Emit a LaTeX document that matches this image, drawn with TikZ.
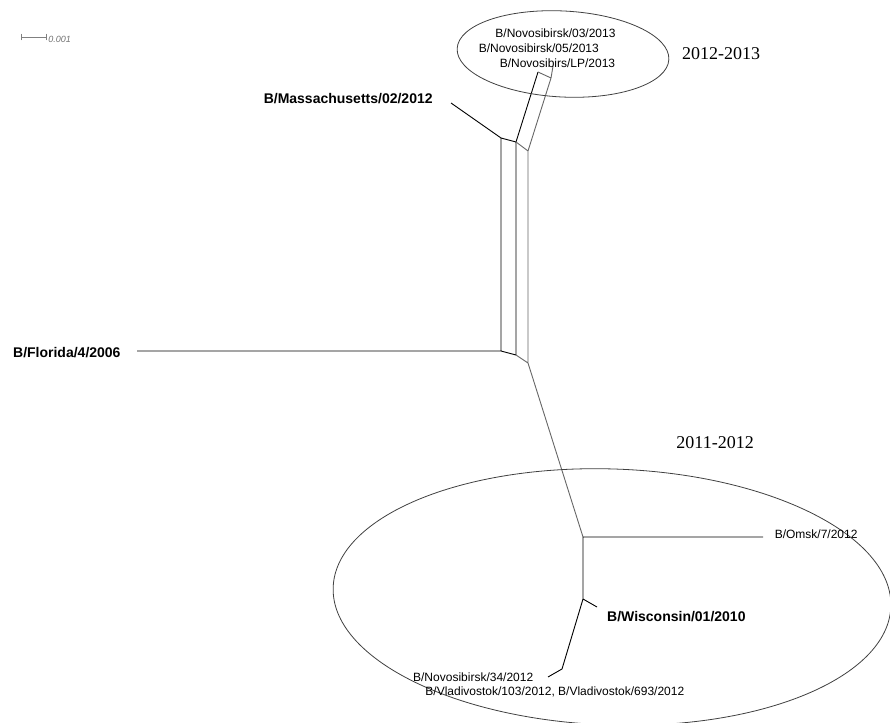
\documentclass[tikz,border=0pt]{standalone}
\usepackage{fontspec}
\setmainfont{Liberation Sans}
\newfontfamily\yearfont{Liberation Serif}
\usetikzlibrary{positioning}
\begin{document}
\begin{tikzpicture}[x=1pt, y=-1pt, line width=0.9pt, font=\fontsize{12}{14}\selectfont,
	strain/.style={anchor=base west, inner sep=0pt},
	refstrain/.style={strain, font=\fontsize{14}{16}\selectfont\bfseries},
	season/.style={strain, font=\fontsize{18}{20}\selectfont\yearfont},
	gedge/.style={draw=black!60},
	cluster/.style={draw=black!75, line width=0.8pt}]
	\useasboundingbox (0,0) rectangle (890,722);
	\clip (0,0) rectangle (890,722);
	\path (137,351) coordinate (FL) (501,351) coordinate (L1) (501,138) coordinate (L2)
		(516,355) coordinate (M1) (516,142) coordinate (M2) (528,363) coordinate (R1) (528,151) coordinate (R2)
		(451,103) coordinate (MA) (538,72) coordinate (T1) (551,78) coordinate (T2) (553,66) coordinate (LP)
		(583,537) coordinate (C1) (763,537) coordinate (OM) (583,599) coordinate (C2) (597,607) coordinate (WI)
		(562,669) coordinate (C3) (548,677) coordinate (NV)
		(21,37) coordinate (S1) (47,37) coordinate (S2);
	% splits network
	\draw (FL)--(L1)--(L2)--(MA) (L2)--(M2) (L1)--(M1) (M1)--(M2)--(T1);
	\draw[gedge] (M2)--(R2)--(T2)--(T1) (T2)--(LP) (M1)--(R1)--(R2) (R1)--(C1);
	\draw (C1)--(OM) (C1)--(C2)--(WI) (C2)--(C3)--(NV);
	% clusters
	\draw[cluster, rotate around={-3:(563,54)}] (563,54) ellipse [x radius=106, y radius=43];
	\draw[cluster, rotate around={-2:(612,597)}] (612,597) ellipse [x radius=279, y radius=128];
	% scale
	\draw[|-|, black!50, line width=0.7pt] (S1)--(S2);
	\node[strain, text=black!55, font=\fontsize{9}{10}\selectfont\itshape] (scale) at (48,43) {0.001};
	% labels
	\foreach \n/\x/\y/\t in {nov03/495/37.3/B\slash Novosibirsk\slash 03\slash 2013,
		nov05/478.3/52.3/B\slash Novosibirsk\slash 05\slash 2013, novLP/499.3/67.7/B\slash Novosibirs\slash LP\slash 2013,
		omsk/774.3/538.3/B\slash Omsk\slash 7\slash 2012, nov34/412.7/681.7/B\slash Novosibirsk\slash 34\slash 2012}{
		\node[strain] (\n) at (\x,\y) {\t};
	}
	\node[strain] (vlad) at (425,695) {B/Vladivostok/103/2012, B/Vladivostok/693/2012};
	\foreach \n/\x/\y/\t in {florida/12.7/357.3/B\slash Florida\slash 4\slash 2006,
		mass/263.3/103.3/B\slash Massachusetts\slash 02\slash 2012, wisc/606.7/621.7/B\slash Wisconsin\slash 01\slash 2010}{
		\node[refstrain] (\n) at (\x,\y) {\t};
	}
	\node[season] (y1213) at (681.7,60) {2012-2013};
	\node[season] (y1112) at (676,448.3) {2011-2012};
\end{tikzpicture}
\end{document}
